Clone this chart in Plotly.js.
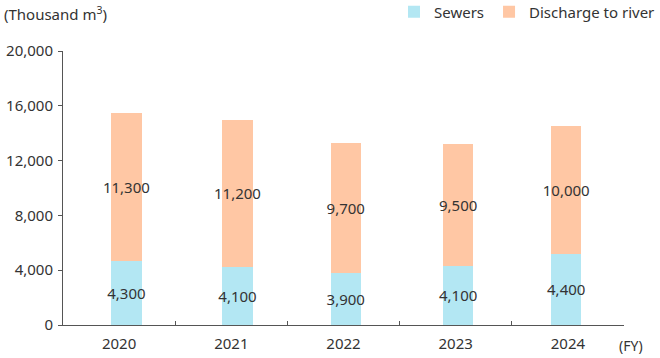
<!DOCTYPE html>
<html><head><meta charset="utf-8">
<script src="https://cdn.plot.ly/plotly-3.0.1.min.js"></script>
<style>html,body{margin:0;padding:0;background:#fff}#chart{width:660px;height:358px}</style>
</head><body><div id="chart"></div>
<script>
const years = ['2020', '2021', '2022', '2023', '2024'];
// bar heights as drawn in the picture
const sewers = [4640, 4270, 3760, 4340, 5200];
const discharge = [10860, 10690, 9550, 8870, 9330];
// value labels as printed
const sewersLabels = ['4,300', '4,100', '3,900', '4,100', '4,400'];
const dischargeLabels = ['11,300', '11,200', '9,700', '9,500', '10,000'];
const yTicks = [0, 4000, 8000, 12000, 16000, 20000];
const yTickText = ['0', '4,000', '8,000', '12,000', '16,000', '20,000'];

const font = 'Noto Sans, Open Sans, sans-serif';
const common = {
  type: 'bar', x: years, width: 0.27, offset: [-0.07, -0.08, -0.115, -0.113, -0.15],
  textposition: 'inside', insidetextanchor: 'middle', textangle: 0,
  constraintext: 'none', cliponaxis: false,
  textfont: {family: font, size: 15, color: '#333'},
  hoverinfo: 'skip'
};
const data = [
  Object.assign({}, common, {name: 'Sewers', y: sewers, text: sewersLabels, marker: {color: '#b3e7f3'}}),
  Object.assign({}, common, {name: 'Discharge to river', y: discharge, text: dischargeLabels, marker: {color: '#ffc7a4'}})
];
const layout = {
  width: 660, height: 358,
  margin: {l: 63, r: 36, t: 51, b: 33},
  barmode: 'stack',
  paper_bgcolor: '#fff', plot_bgcolor: '#fff',
  font: {family: font, size: 15, color: '#333'},
  title: {text: '(Thousand m<sup>3</sup>)', xref: 'container', yref: 'container', x: 0.006, xanchor: 'left', y: 1 - 15/358, yanchor: 'middle', font: {family: font, size: 15, color: '#333'}},
  xaxis: {type: 'category', range: [-0.5, 4.5], showline: true, linecolor: '#555', linewidth: 1,
    ticks: 'inside', ticklen: 4, tickcolor: '#555', tickson: 'boundaries', showgrid: false, zeroline: false,
    ticklabelstandoff: 5,
    tickfont: {family: font, size: 15, color: '#333'}, fixedrange: true},
  yaxis: {range: [0, 20000], tickvals: yTicks, ticktext: yTickText, showline: true, linecolor: '#555', linewidth: 1,
    ticks: 'outside', ticklen: 4, tickcolor: '#555', showgrid: false, zeroline: false,
    ticklabelstandoff: 2,
    tickfont: {family: font, size: 15, color: '#333'}, fixedrange: true},
  showlegend: true,
  legend: {orientation: 'h', traceorder: 'normal', xref: 'paper', x: 0.592, xanchor: 'left', yref: 'container', y: 1 - 12/358, yanchor: 'middle',
    font: {family: font, size: 15, color: '#333'}, itemclick: false},
  annotations: [{text: '(FY)', xref: 'paper', yref: 'paper', x: 1.012, y: -0.073, xanchor: 'center', yanchor: 'middle', showarrow: false,
    font: {family: font, size: 14, color: '#333'}}]
};
Plotly.newPlot('chart', data, layout, {displayModeBar: false, staticPlot: true});
</script></body></html>
